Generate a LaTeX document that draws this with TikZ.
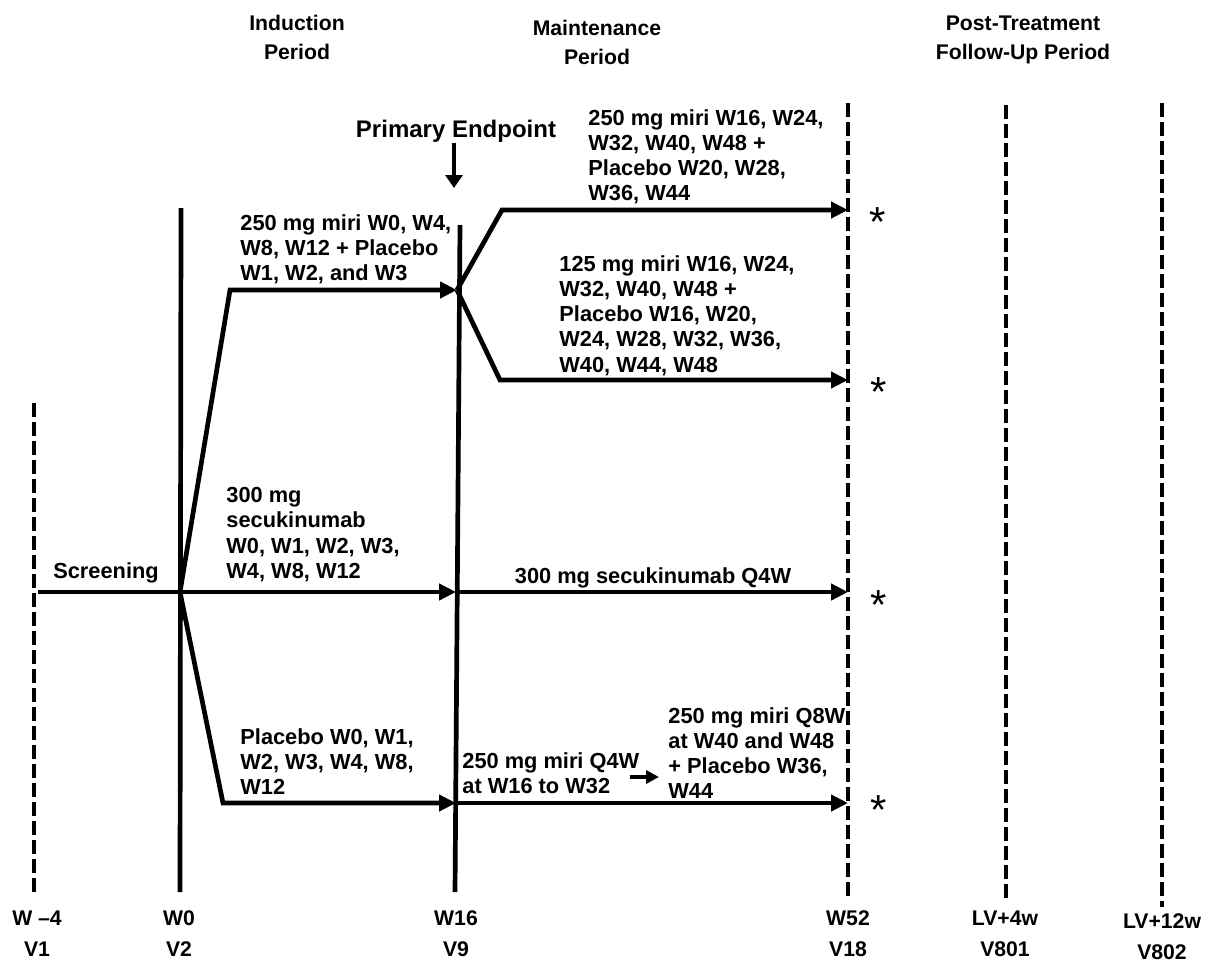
\documentclass[tikz,border=0pt]{standalone}
\usepackage{fontspec}
\setmainfont{Liberation Sans}
\usetikzlibrary{arrows.meta, positioning}
\tikzset{
  txt/.style={font=\bfseries\fontsize{10.9}{12.6}\selectfont, align=left, anchor=north west, inner sep=0pt},
  hdr/.style={font=\bfseries\fontsize{10.6}{14.5}\selectfont, align=center, inner sep=0pt},
  visit/.style={font=\bfseries\fontsize{10.6}{15.5}\selectfont, align=center, inner sep=0pt},
  lbl/.style={font=\bfseries\fontsize{10.9}{12.6}\selectfont, anchor=base, inner sep=0pt},
  star/.style={font=\fontsize{21}{21}\selectfont, anchor=base, inner sep=0pt},
  timeline/.style={line width=2.35pt},
  dashline/.style={line width=2.4pt, dash pattern=on 7pt off 2.5pt},
  arrow/.style={line width=2.35pt, -{Triangle[length=8.5pt, width=8pt]}},
  smallarrow/.style={line width=2pt, -{Triangle[length=6.5pt, width=6.5pt]}}
}
\begin{document}
\begin{tikzpicture}[x=0.5pt, y=-0.5pt]
  \useasboundingbox (0,0) rectangle (1209,970);

  % Period headers
  \node[hdr] (induct) at (297,37) {Induction\\Period};
  \node[hdr] (maint) at (597,42) {Maintenance\\Period};
  \node[hdr] (follow) at (1023,40) {Post-Treatment\\Follow-Up Period};

  % Visit lines
  \coordinate (v1top) at (34,403);   \coordinate (v1bot) at (34,893);
  \coordinate (w0top) at (181,208);  \coordinate (w0bot) at (180,892);
  \coordinate (w16top) at (460,225); \coordinate (w16bot) at (455,892);
  \coordinate (w52top) at (848,103); \coordinate (w52bot) at (848,898);
  \coordinate (lv4top) at (1006,105); \coordinate (lv4bot) at (1006,902);
  \coordinate (lv12top) at (1162,103); \coordinate (lv12bot) at (1162,907);
  \draw[dashline] (v1top) -- (v1bot);
  \draw[timeline] (w0top) -- (w0bot);
  \draw[timeline] (w16top) -- (w16bot);
  \draw[dashline] (w52top) -- (w52bot);
  \draw[dashline] (lv4top) -- (lv4bot);
  \draw[dashline] (lv12top) -- (lv12bot);

  % Visit labels
  \node[visit] (vw1) at (37,934) {W \textendash4\\V1};
  \node[visit] (vw2) at (179,934) {W0\\V2};
  \node[visit] (vw9) at (456,934) {W16\\V9};
  \node[visit] (vw18) at (848,934) {W52\\V18};
  \node[visit] (vw801) at (1005,934) {LV+4w\\V801};
  \node[visit] (vw802) at (1162,937) {LV+12w\\V802};

  % Junctions
  \coordinate (scr) at (38,592);
  \coordinate (w0mid) at (180,592);
  \coordinate (ind1c) at (230,290);
  \coordinate (ind3c) at (223,803);
  \coordinate (w16a) at (457,290);
  \coordinate (w16b) at (456,592);
  \coordinate (w16c) at (456,803);
  \coordinate (m1c) at (502,210);  \coordinate (m1e) at (848,210);
  \coordinate (m2c) at (500,380);  \coordinate (m2e) at (848,380);
  \coordinate (m3e) at (848,592);
  \coordinate (m4e) at (848,803);

  % Screening and induction arms
  \draw[timeline] (scr) -- (w0mid);
  \node[lbl] (screen) at (106,578) {Screening};
  \draw[arrow] (w0mid) -- (ind1c) -- (w16a);
  \draw[arrow] (w0mid) -- (w16b);
  \draw[arrow] (w0mid) -- (ind3c) -- (w16c);
  \node[txt] (arm1) at (240,214) {250 mg miri W0, W4,\\W8, W12 + Placebo\\W1, W2, and W3};
  \node[txt] (arm2) at (226,487) {300 mg\\secukinumab\\W0, W1, W2, W3,\\W4, W8, W12};
  \node[txt] (arm3) at (240,728) {Placebo W0, W1,\\W2, W3, W4, W8,\\W12};

  % Primary endpoint
  \node[lbl, font=\bfseries\fontsize{12}{14}\selectfont] (pend) at (456,137) {Primary Endpoint};
  \coordinate (pe1) at (454,143);
  \coordinate (pe2) at (454,188);
  \draw[line width=2.4pt, -{Triangle[length=6.5pt, width=8.5pt]}] (pe1) -- (pe2);

  % Maintenance arms
  \draw[arrow] (w16a) -- (m1c) -- (m1e);
  \draw[arrow] (w16a) -- (m2c) -- (m2e);
  \draw[arrow] (w16b) -- (m3e);
  \draw[arrow] (w16c) -- (m4e);
  \node[txt] (marm1) at (588,109) {250 mg miri W16, W24,\\W32, W40, W48 +\\Placebo W20, W28,\\W36, W44};
  \node[txt] (marm2) at (559,255) {125 mg miri W16, W24,\\W32, W40, W48 +\\Placebo W16, W20,\\W24, W28, W32, W36,\\W40, W44, W48};
  \node[lbl] (marm3) at (653,583) {300 mg secukinumab Q4W};
  \node[txt] (marm4a) at (462,752) {250 mg miri Q4W\\at W16 to W32};
  \node[txt] (marm4b) at (668,707) {250 mg miri Q8W\\at W40 and W48\\+ Placebo W36,\\W44};
  \coordinate (sa1) at (630,777);
  \coordinate (sa2) at (659,777);
  \draw[smallarrow] (sa1) -- (sa2);

  % Asterisks
  \node[star] (s1) at (878,236) {*};
  \node[star] (s2) at (879,406) {*};
  \node[star] (s3) at (879,619) {*};
  \node[star] (s4) at (879,824) {*};
\end{tikzpicture}
\end{document}
